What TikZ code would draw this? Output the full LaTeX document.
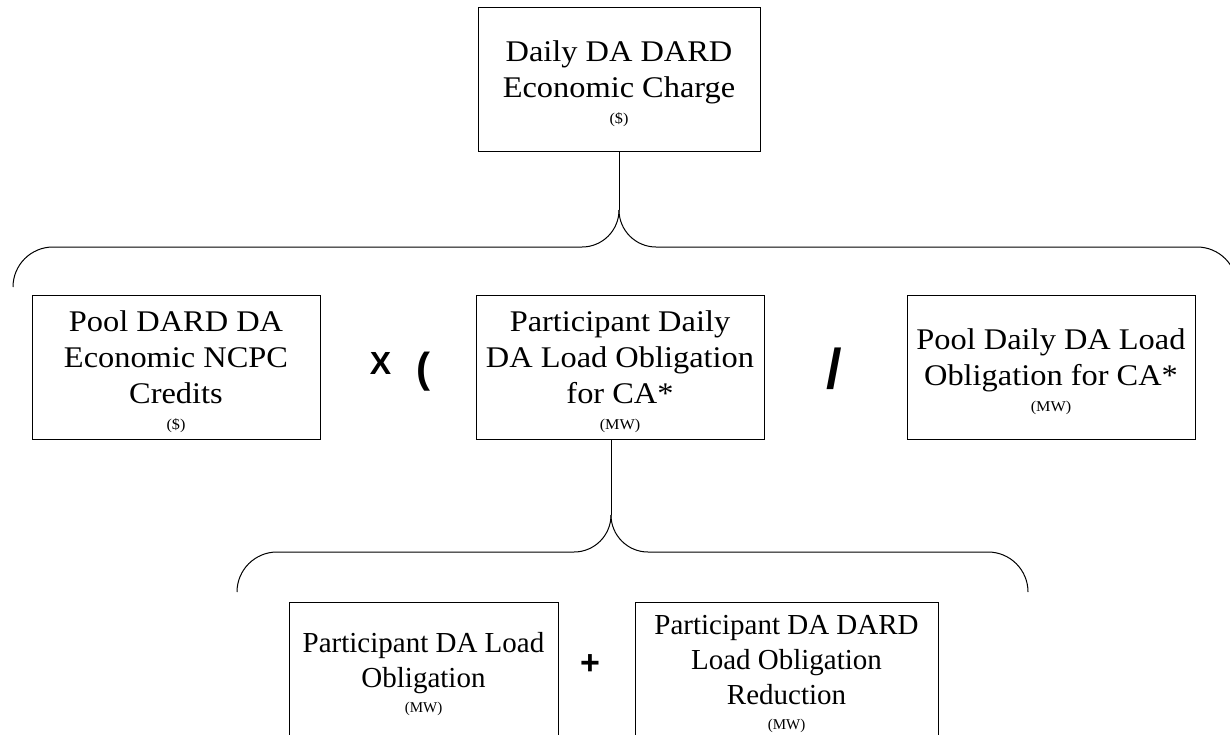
\documentclass[tikz,border=0pt]{standalone}
\usepackage{fontspec}
\setmainfont{Liberation Serif}[FakeStretch=1.08]
\newfontfamily\lowfont{Liberation Serif}
\newfontfamily\opfont{Liberation Sans}
\newcommand\unitline[1]{\\[-10pt]{\fontsize{15}{17}\selectfont #1}}
\newcommand\firststrut{\rule{0pt}{30pt}}
\begin{document}
\begin{tikzpicture}[x=1pt,y=-1pt,
  box/.style={draw=black, line width=1pt, inner sep=0pt, align=center,
    font=\fontsize{30}{36}\selectfont, minimum width=288pt, minimum height=144pt},
  lowbox/.style={box, font=\lowfont\fontsize{29}{35}\selectfont},
  op/.style={inner sep=0pt, anchor=center, font=\opfont\bfseries},
  brace/.style={draw=black, line width=1pt}]
\useasboundingbox (0,0) rectangle (1230,734);
\clip (0,0) rectangle (1230,734);

\node[box, minimum width=282pt] (top) at (619,79) {\firststrut Daily DA DARD\\Economic Charge\unitline{(\$)}};
\node[box] (pool) at (176,367) {\firststrut Pool DARD DA\\Economic NCPC\\Credits\unitline{(\$)}};
\node[box] (part) at (620,367) {\firststrut Participant Daily\\DA Load Obligation\\for CA*\unitline{(MW)}};
\node[box] (poolload) at (1051,367) {\firststrut Pool Daily DA Load\\Obligation for CA*\unitline{(MW)}};
\node[lowbox, minimum width=269pt] (pda) at (423.5,674) {Participant DA Load\\Obligation\unitline{(MW)}};
\node[lowbox, minimum width=303pt] (prd) at (786.5,674) {Participant DA DARD\\Load Obligation\\Reduction\unitline{(MW)}};

\node[op, font=\opfont\bfseries\fontsize{32}{32}\selectfont] (times) at (380.5,363.5) {X};
\node[op, font=\opfont\bfseries\fontsize{42}{42}\selectfont] (lpar) at (423.5,372) {(};
\node[op, font=\opfont\bfseries\fontsize{56}{56}\selectfont] (div) at (834,368.5) {/};
\node[op, font=\opfont\bfseries\fontsize{34}{34}\selectfont] (plus) at (590,665) {+};

\coordinate (c1) at (619,210);
\coordinate (c2) at (611,515);
\draw[brace] (top.south) -- (c1);
\draw[brace] (c1) .. controls (619,230.4) and (602.4,247) .. (582,247) -- (53,247)
  .. controls (30.9,247) and (13,264.9) .. (13,287);
\draw[brace] (c1) .. controls (619,230.4) and (635.6,247) .. (656,247) -- (1197,247)
  .. controls (1219.1,247) and (1237,264.9) .. (1237,287);
\draw[brace] (c2 |- part.south) -- (c2);
\draw[brace] (c2) .. controls (611,535.4) and (594.4,552) .. (574,552) -- (277,552)
  .. controls (254.9,552) and (237,569.9) .. (237,592);
\draw[brace] (c2) .. controls (611,535.4) and (627.6,552) .. (648,552) -- (988,552)
  .. controls (1010.1,552) and (1028,569.9) .. (1028,592);
\end{tikzpicture}
\end{document}
